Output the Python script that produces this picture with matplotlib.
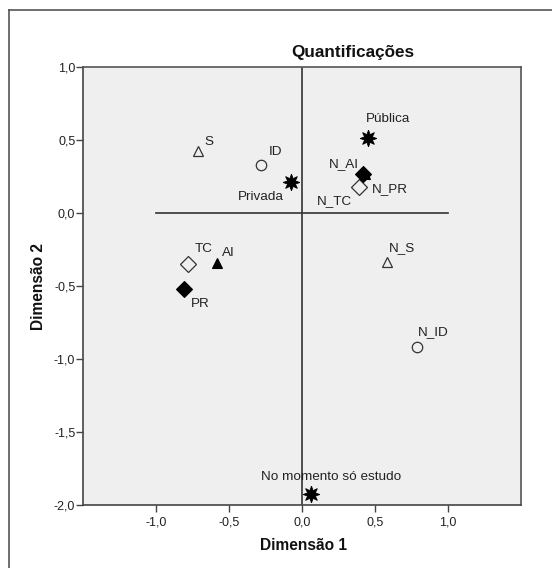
import matplotlib
matplotlib.use("Agg")
import matplotlib.pyplot as plt
from matplotlib.lines import Line2D
from matplotlib.ticker import FuncFormatter

plt.rcParams['font.family'] = ['Liberation Sans', 'DejaVu Sans']

# category quantifications (Dimensão 1, Dimensão 2)
categorias = ["N_AI", "Pública", "Privada", "No momento só estudo", "S", "N_S",
              "ID", "N_ID", "TC", "N_TC", "PR", "N_PR", "AI"]
dim1 = [0.43, 0.45, -0.075, 0.063, -0.71, 0.58, -0.28, 0.785, -0.78, 0.39, -0.81, 0.42, -0.58]
dim2 = [0.265, 0.515, 0.215, -1.925, 0.425, -0.333, 0.33, -0.92, -0.35, 0.175, -0.52, 0.27, -0.345]

x_ticks = [-1.0, -0.5, 0.0, 0.5, 1.0]
y_ticks = [1.0, 0.5, 0.0, -0.5, -1.0, -1.5, -2.0]

# marker style per variable
estilos = {
    "star": dict(marker=(8, 1, 0), ms=12, mfc="black", mec="black", mew=0.6),
    "tri_open": dict(marker="^", ms=7, mfc="none", mec="#333333", mew=0.9),
    "tri_fill": dict(marker="^", ms=7.4, mfc="black", mec="black", mew=0.8),
    "circ_open": dict(marker="o", ms=7.5, mfc="none", mec="#333333", mew=0.9),
    "dia_open": dict(marker="D", ms=8.4, mfc="none", mec="#333333", mew=0.9),
    "dia_fill": dict(marker="D", ms=8.4, mfc="black", mec="black", mew=0.8),
}
marcador = {
    "Pública": "star", "Privada": "star", "No momento só estudo": "star",
    "S": "tri_open", "N_S": "tri_open", "ID": "circ_open", "N_ID": "circ_open",
    "TC": "dia_open", "N_TC": "dia_open", "PR": "dia_fill", "N_PR": "dia_fill",
    "AI": "tri_fill", "N_AI": "tri_fill",
}
# label offsets in pixels (dx, dy, ha)
rotulo = {
    "Pública": (20, 19, "center"), "Privada": (-7, -15.5, "right"),
    "No momento só estudo": (20, 17.5, "center"),
    "S": (6, 9, "left"), "N_S": (2, 14, "left"), "ID": (8, 13, "left"),
    "N_ID": (1.5, 15, "left"), "TC": (7, 15, "left"), "N_TC": (-7, -13.5, "right"),
    "PR": (7, -15, "left"), "N_PR": (9, -15.5, "left"), "AI": (4.5, 10.7, "left"),
    "N_AI": (-6, 10.5, "right"),
}

W, H = 552, 568
fig = plt.figure(figsize=(W / 100, H / 100), dpi=100)
fig.patch.set_facecolor("white")

# outer frame (left and top)
fig.add_artist(Line2D([8.5 / W, 8.5 / W], [0, 1 - 10 / H], transform=fig.transFigure, color="#555555", lw=1.2))
fig.add_artist(Line2D([8.5 / W, 1], [1 - 10 / H, 1 - 10 / H], transform=fig.transFigure, color="#555555", lw=1.2))

left, right, top, bottom = 83, 521, 67, 505
ax = fig.add_axes([left / W, 1 - bottom / H, (right - left) / W, (bottom - top) / H])
ax.set_facecolor("#efefef")
ax.set_xlim(-1.5, 1.5)
ax.set_ylim(-2.0, 1.0)

ax.axvline(0, color="#333333", lw=1.2, zorder=1)
ax.plot([-1.0, 1.0], [0, 0], color="#333333", lw=1.2, zorder=1)

for nome, x, y in zip(categorias, dim1, dim2):
    ax.plot([x], [y], linestyle="none", zorder=3, **estilos[marcador[nome]])
    dx, dy, ha = rotulo[nome]
    ax.annotate(nome, (x, y), xytext=(dx, dy), textcoords="offset pixels",
                ha=ha, va="center", fontsize=9.7, color="#222222")

for s in ["top", "right"]:
    ax.spines[s].set_color("#555555")
    ax.spines[s].set_linewidth(1.2)
for s in ["left", "bottom"]:
    ax.spines[s].set_color("#444444")
    ax.spines[s].set_linewidth(1.2)

fmt = FuncFormatter(lambda v, p: f"{v:.1f}".replace(".", ","))
ax.set_xticks(x_ticks)
ax.set_yticks(y_ticks)
ax.xaxis.set_major_formatter(fmt)
ax.yaxis.set_major_formatter(fmt)
ax.tick_params(direction="out", length=5, width=1, color="#444444", labelsize=9, labelcolor="#222222", pad=3)
ax.tick_params(axis="y", pad=0.5)

fig.text(38.5 / W, 1 - 286 / H, "Dimensão 2", rotation=90, ha="center", va="center",
         fontsize=11.2, fontweight="bold", color="#111111")
fig.text(303 / W, 1 - 546 / H, "Dimensão 1", ha="center", va="center",
         fontsize=11.2, fontweight="bold", color="#111111")
fig.text(352.5 / W, 1 - 53 / H, "Quantificações", ha="center", va="center",
         fontsize=12.3, fontweight="bold", color="#111111")

fig.savefig("out.png", dpi=100)
